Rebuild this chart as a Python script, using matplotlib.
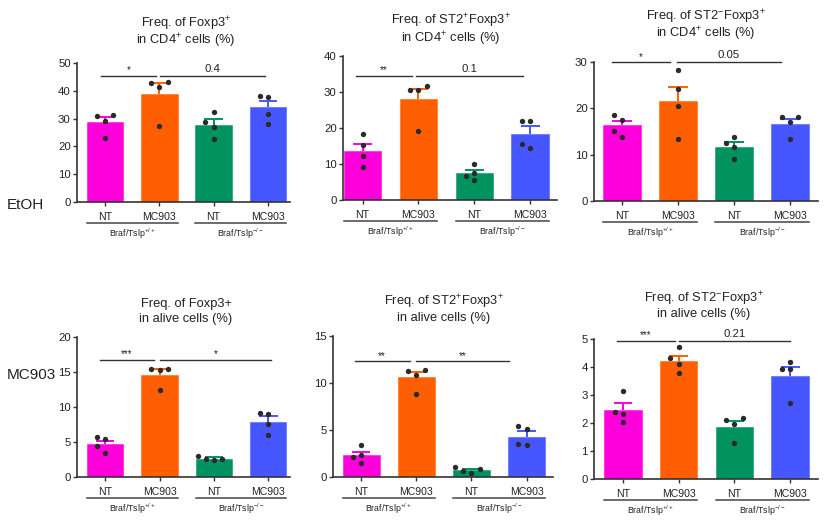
import matplotlib
matplotlib.use("Agg")
import matplotlib.pyplot as plt
import numpy as np
from matplotlib.transforms import blended_transform_factory

plt.rcParams['font.family'] = ['Liberation Sans', 'DejaVu Sans']
plt.rcParams['mathtext.fontset'] = 'custom'
plt.rcParams['mathtext.rm'] = 'Liberation Sans'
plt.rcParams['mathtext.it'] = 'Liberation Sans:italic'
plt.rcParams['mathtext.bf'] = 'Liberation Sans:bold'
plt.rcParams['mathtext.sf'] = 'Liberation Sans'

# ---------------- data ----------------
categories = ["NT", "MC903", "NT", "MC903"]
genotypes = ["Braf/Tslp$^{+/+}$", "Braf/Tslp$^{-/-}$"]
row_labels = ["EtOH", "MC903"]
colors = ["#FF00DC", "#FF5F00", "#00925F", "#4657FF"]

titles = [
    ("Freq. of Foxp3$^{+}$", "in CD4$^{+}$ cells (%)"),
    ("Freq. of ST2$^{+}$Foxp3$^{+}$", "in CD4$^{+}$ cells (%)"),
    ("Freq. of ST2$^{-}$Foxp3$^{+}$", "in CD4$^{+}$ cells (%)"),
    ("Freq. of Foxp3+", "in alive cells (%)"),
    ("Freq. of ST2$^{+}$Foxp3$^{+}$", "in alive cells (%)"),
    ("Freq. of ST2$^{-}$Foxp3$^{+}$", "in alive cells (%)"),
]

means_1 = [28.6, 38.7, 27.6, 34.0]
sem_1 = [1.9, 4.0, 2.2, 2.5]
points_1 = [[30.8, 31.25, 29.3, 23.2], [42.8, 43.3, 41.3, 27.2],
            [32.5, 28.8, 26.9, 22.8], [37.7, 38.3, 31.6, 28.1]]

means_2 = [13.7, 28.0, 7.4, 18.4]
sem_2 = [1.9, 2.9, 0.9, 2.1]
points_2 = [[18.2, 15.3, 12.3, 9.26], [31.6, 30.6, 30.6, 19.2],
            [9.9, 7.5, 5.6, 6.8], [22.0, 22.0, 15.6, 14.35]]

means_3 = [16.3, 21.5, 11.7, 16.6]
sem_3 = [1.0, 3.2, 1.0, 1.2]
points_3 = [[18.5, 17.55, 15.1, 13.9], [28.3, 24.1, 20.4, 13.4],
            [13.9, 12.5, 11.7, 9.0], [18.06, 18.2, 17.0, 13.45]]

means_4 = [4.74, 14.6, 2.56, 7.9]
sem_4 = [0.46, 0.85, 0.28, 0.8]
points_4 = [[5.4, 5.7, 4.36, 3.5], [15.5, 15.26, 15.5, 12.5],
            [3.0, 2.45, 2.55, 2.55], [8.96, 9.2, 7.6, 6.0]]

means_5 = [2.3, 10.6, 0.71, 4.3]
sem_5 = [0.39, 0.6, 0.14, 0.55]
points_5 = [[3.36, 2.33, 2.16, 1.49], [11.39, 10.9, 11.28, 8.8],
            [1.03, 0.85, 0.64, 0.42], [5.1, 5.38, 3.4, 3.5]]

means_6 = [2.46, 4.21, 1.87, 3.68]
sem_6 = [0.24, 0.19, 0.2, 0.33]
points_6 = [[3.14, 2.38, 2.33, 2.02], [4.70, 4.31, 4.11, 3.77],
            [2.10, 2.19, 1.96, 1.27], [4.19, 3.93, 3.93, 2.70]]

sig_labels = [("*", "0.4"), ("**", "0.1"), ("*", "0.05"),
              ("***", "*"), ("**", "**"), ("***", "0.21")]
sig_heights = [45.3, 34.4, 29.9, 16.7, 12.3, 4.94]

all_means = [means_1, means_2, means_3, means_4, means_5, means_6]
all_sems = [sem_1, sem_2, sem_3, sem_4, sem_5, sem_6]
all_points = [points_1, points_2, points_3, points_4, points_5, points_6]
ymax = [50, 40, 30, 20, 15, 5]
ystep = [10, 10, 10, 5, 5, 1]

# ---------------- layout (pixels) ----------------
W, H = 834, 528
# left, right, top(ymax), bottom(0)
boxes = [(77, 290, 63, 202), (343, 557, 56, 200), (594, 818, 62, 201),
         (77, 290, 337, 477), (333, 553, 336, 477), (594, 818, 339, 479)]
# x-limits in bar units (bars at 0..3)
xlims = [(-0.52, 3.41), (-0.35, 3.48), (-0.5, 3.5),
         (-0.52, 3.40), (-0.51, 3.48), (-0.52, 3.50)]
# title line baselines (pixels from top) and horizontal centres
title_base = [(27, 44), (24, 42), (20, 37), (307, 322), (305, 321), (302, 317)]
title_cx = [186, 451, 706, 186, 444, 704]
sig_spans = [((-0.07, 0.94), (1.01, 2.95)), ((-0.12, 0.88), (0.96, 2.87)),
             ((-0.18, 0.86), (0.98, 2.84)), ((-0.1, 0.9), (1.0, 3.05)),
             ((-0.12, 0.88), (1.0, 2.68)), ((-0.1, 0.93), (1.0, 3.0))]

fig = plt.figure(figsize=(W / 100, H / 100), dpi=100)

def swarm(vals, px_unit, px_x, step=0.15, mind=6.8):
    vals = np.asarray(vals, float)
    order = np.argsort(vals)
    placed = []
    offs = np.zeros(len(vals))
    cands = [0, -step, step, -2 * step, 2 * step]
    for i in order:
        for c in cands:
            ok = True
            for (xo, v) in placed:
                d = np.hypot((c - xo) * px_x, (vals[i] - v) * px_unit)
                if d < mind:
                    ok = False
                    break
            if ok:
                offs[i] = c
                placed.append((c, vals[i]))
                break
    return offs

spine_c = "#333333"
x = np.arange(4)
bw = 0.67

for k in range(6):
    l, r, t, b = boxes[k]
    ax = fig.add_axes([l / W, 1 - b / H, (r - l) / W, (b - t) / H])
    ax.set_xlim(*xlims[k])
    ax.set_ylim(0, ymax[k])
    for s in ("top", "right"):
        ax.spines[s].set_visible(False)
    for s in ("left", "bottom"):
        ax.spines[s].set_color(spine_c)
        ax.spines[s].set_linewidth(1.2)
    ax.set_yticks(np.arange(0, ymax[k] + 1e-9, ystep[k]))
    ax.set_yticklabels([f"{v:g}" for v in np.arange(0, ymax[k] + 1e-9, ystep[k])])
    ax.set_xticks(x)
    ax.set_xticklabels(categories)
    ax.tick_params(axis="y", length=3, width=1, color=spine_c, labelsize=8.2, pad=1.5, labelcolor="#222222")
    ax.tick_params(axis="x", length=3, width=1, color=spine_c, labelsize=7.6, pad=4, labelcolor="#222222")

    m = np.array(all_means[k])
    e = np.array(all_sems[k])
    for i in range(4):
        ax.bar(x[i], m[i], width=bw, color=colors[i], edgecolor=colors[i] + "80",
               linewidth=0.8, zorder=2)
    ax.vlines(x, m, m + e, colors=colors, linewidth=1.4, zorder=3)
    ax.hlines(m + e, x - 0.17, x + 0.17, colors=colors, linewidth=1.4, zorder=3)

    px_unit = (b - t) / ymax[k]
    px_x = (r - l) / (xlims[k][1] - xlims[k][0])
    for i in range(4):
        offs = swarm(all_points[k][i], px_unit, px_x)
        ax.scatter(x[i] + offs, all_points[k][i], s=15, color="#2a2a2a",
                   zorder=4, linewidths=0)

    # significance
    y = sig_heights[k]
    for (x1, x2), lab in zip(sig_spans[k], sig_labels[k]):
        ax.plot([x1, x2], [y, y], color="#333333", lw=1.0, clip_on=False, zorder=5)
        star = "*" in lab
        ax.annotate(lab, ((x1 + x2) / 2, y), xytext=(0, 0.5 if star else 1.5),
                    textcoords="offset points", ha="center", va="bottom",
                    fontsize=7 if star else 8.2, color="#222222", annotation_clip=False)

    # group lines and labels
    hpx = b - t
    tr = blended_transform_factory(ax.transData, ax.transAxes)
    for g in range(2):
        xs = [2 * g - bw / 2, 2 * g + 1 + bw / 2]
        ax.plot(xs, [-21 / hpx, -21 / hpx], color="#444444", lw=1.1,
                transform=tr, clip_on=False)
        ax.text(2 * g + 0.5, -31.5 / hpx, genotypes[g], transform=tr,
                ha="center", va="center", fontsize=6.3, color="#222222")

    # two-line title, placed at fixed baselines
    for line, yb in zip(titles[k], title_base[k]):
        fig.text(title_cx[k] / W, 1 - yb / H, line, fontsize=9.3, ha="center",
                 va="baseline", color="#222222")

fig.text(7 / W, 1 - 205 / H, row_labels[0], fontsize=11, ha="left", va="center", color="#222222")
fig.text(7 / W, 1 - 375 / H, row_labels[1], fontsize=11, ha="left", va="center", color="#222222")

fig.savefig("out.png", dpi=100, facecolor="white")
